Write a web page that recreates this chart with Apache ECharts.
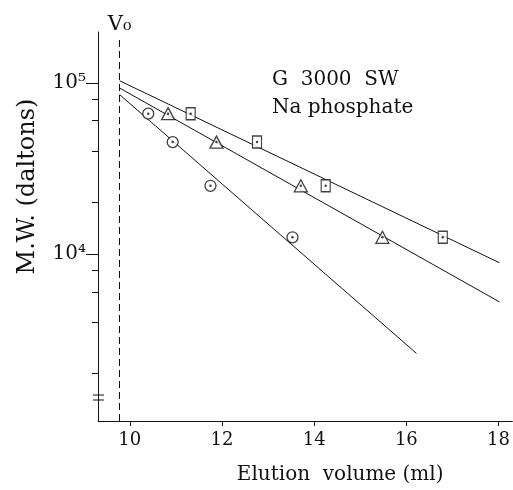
<!DOCTYPE html>
<html>
<head>
<meta charset="UTF-8">
<title>G 3000 SW</title>
<script src="https://cdn.jsdelivr.net/npm/echarts@6/dist/echarts.min.js"></script>
<style>html,body{margin:0;padding:0;background:#fff}</style>
</head>
<body>
<div id="chart" style="width:513px;height:490px"></div>
<script>
// elution volumes (ml) of the standards, one array per marker
var circleVol = [10.40, 10.93, 11.75, 13.53];
var triangleVol = [10.83, 11.88, 13.71, 15.48];
var squareVol = [11.32, 12.76, 14.25, 16.79];
// M.W. of the standards (daltons)
var standardMW = [66000, 45000, 25000, 12500];

// fitted lines: two end points each
var circleFitVol = [9.78, 16.22];
var circleFitMW = [85200, 2620];
var triangleFitVol = [9.78, 18.02];
var triangleFitMW = [93100, 5240];
var squareFitVol = [9.78, 18.02];
var squareFitMW = [102700, 8870];

var v0 = 9.78;
var xTicks = [10, 12, 14, 16, 18];
var yMajor = [10000, 100000];
var yMinor = [2000, 4000, 6000, 8000, 20000, 40000, 60000, 80000];
var yMin = 1055, yMax = 198000, v0Top = 183000;

function lg(v){ return Math.log10(v); }
function pairs(xs, ys){
	return xs.map(function(x, i){ return [x, lg(ys[i])]; });
}
var sup = {'4':'⁴','5':'⁵','3':'³'};

var font = 'DejaVu Serif';
var black = '#111';

var fitStyle = {color: black, width: 1};
function fitSeries(xs, ys){
	return {type:'line', data:pairs(xs, ys), symbol:'none', silent:true, z:2, lineStyle:fitStyle};
}
function markerSeries(xs, sym, size){
	return {
		type:'scatter', data:pairs(xs, standardMW), symbol:sym, symbolSize:size, z:3,
		itemStyle:{color:'#fff', borderColor:black, borderWidth:1.3}
	};
}

var allVol = circleVol.concat(triangleVol, squareVol);
var allMW = standardMW.concat(standardMW, standardMW);

var chart = echarts.init(document.getElementById('chart'));
var option = {
	animation:false,
	backgroundColor:'#fff',
	title:{
		text:'G  3000  SW\nNa phosphate',
		left:272, top:66, padding:0,
		textStyle:{fontFamily:font, fontWeight:'normal', fontSize:20, lineHeight:28, color:black}
	},
	grid:{left:98, right:0, top:32, bottom:67},
	xAxis:{
		type:'value', min:9.31, max:18.3,
		name:'Elution  volume (ml)', nameLocation:'middle', nameGap:44,
		nameTextStyle:{fontFamily:font, fontSize:20, color:black, padding:[0,0,0,70]},
		axisLine:{lineStyle:{color:black, width:1}},
		axisTick:{customValues:xTicks, length:5, lineStyle:{color:black}},
		axisLabel:{customValues:xTicks, fontFamily:font, fontSize:18, color:black, margin:10},
		splitLine:{show:false}
	},
	yAxis:[{
		type:'value', min:lg(yMin), max:lg(yMax), position:'left',
		name:'M.W. (daltons)', nameLocation:'middle', nameGap:58,
		nameTextStyle:{fontFamily:font, fontSize:24, color:black, padding:[0,0,0,80]},
		axisLine:{show:true, lineStyle:{color:black, width:1}},
		axisTick:{customValues:yMajor.map(lg), length:12, lineStyle:{color:black}},
		axisLabel:{
			customValues:yMajor.map(lg), fontFamily:font, fontSize:20, color:black, margin:12,
			formatter:function(v){ return '10' + sup[String(Math.round(v))]; }
		},
		splitLine:{show:false}
	},{
		type:'value', min:lg(yMin), max:lg(yMax), position:'left',
		axisLine:{show:false},
		axisTick:{show:true, customValues:yMinor.map(lg), length:6, lineStyle:{color:black}},
		axisLabel:{show:false},
		splitLine:{show:false}
	}],
	graphic:[
		{type:'line', shape:{x1:93, y1:395, x2:104, y2:395}, style:{stroke:black, lineWidth:1}},
		{type:'line', shape:{x1:93, y1:400, x2:104, y2:400}, style:{stroke:black, lineWidth:1}}
	],
	series:[
		Object.assign(fitSeries(squareFitVol, squareFitMW), {
			markLine:{
				silent:true, symbol:'none', animation:false,
				lineStyle:{color:black, width:1, type:[7,4]},
				label:{show:true, position:'end', distance:3, formatter:'V₀', fontFamily:font, fontSize:21, color:black},
				data:[[{coord:[v0, lg(yMin)]}, {coord:[v0, lg(v0Top)]}]]
			}
		}),
		fitSeries(triangleFitVol, triangleFitMW),
		fitSeries(circleFitVol, circleFitMW),
		markerSeries(circleVol, 'circle', 11),
		markerSeries(triangleVol, 'triangle', [13, 12]),
		markerSeries(squareVol, 'rect', [9, 12]),
		{
			type:'scatter', data:pairs(allVol, allMW), symbol:'circle', symbolSize:2.5, z:4,
			itemStyle:{color:black}
		}
	]
};
chart.setOption(option);
</script>
</body>
</html>
